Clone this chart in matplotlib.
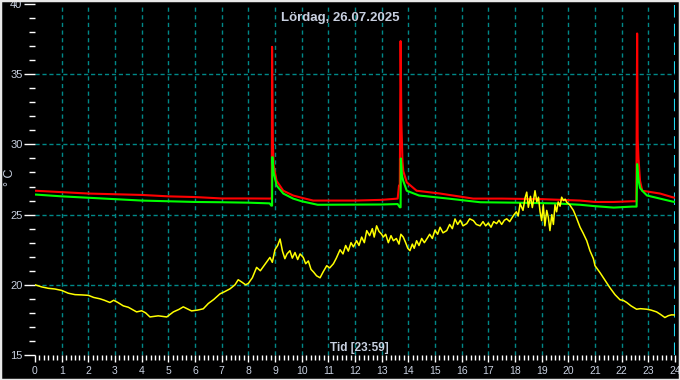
import matplotlib
matplotlib.use("Agg")
import matplotlib.pyplot as plt
from matplotlib.ticker import MultipleLocator
from matplotlib.patches import Rectangle

# red sensor (hours, °C)
red_t = [0, 1, 2, 3, 4, 5, 6, 7, 8, 8.85, 8.88, 8.89, 8.92, 8.95, 9.06, 9.31, 9.68,
         10.0, 10.43, 12.0, 13.0, 13.6, 13.65, 13.68, 13.71, 13.74, 13.78, 13.81,
         13.94, 14.31, 15.19, 16.43, 17.5, 19.0, 20.44, 21.0, 21.7, 22.4, 22.55,
         22.58, 22.6, 22.63, 22.69, 22.77, 23.44, 23.9, 24.0]
red_v = [26.7, 26.6, 26.5, 26.45, 26.4, 26.3, 26.25, 26.15, 26.15, 26.14, 26.14, 36.95,
         30.1, 28.5, 27.4, 26.7, 26.36, 26.2, 26.0, 26.0, 26.05, 26.14, 27.07, 27.07,
         37.36, 31.5, 28.8, 28.1, 27.3, 26.7, 26.5, 26.14, 26.14, 26.1, 26.0, 25.9,
         25.9, 25.95, 25.95, 37.9, 30.4, 29.0, 27.4, 26.7, 26.5, 26.24, 26.2]

# green sensor
green_t = [0, 1, 2, 3, 4, 5, 6, 7, 8, 8.8, 8.86, 8.89, 8.9, 8.95, 9.06, 9.31, 9.68,
           10.0, 10.6, 13.0, 13.6, 13.68, 13.71, 13.72, 13.76, 13.81, 13.94, 14.4,
           15.5, 16.7, 18.0, 19.5, 20.44, 21.0, 21.7, 22.4, 22.56, 22.58, 22.63,
           22.69, 22.77, 22.95, 23.9, 24.0]
green_v = [26.43, 26.3, 26.2, 26.1, 26.0, 25.95, 25.9, 25.88, 25.85, 25.8, 25.64, 25.64,
           29.1, 28.0, 27.07, 26.5, 26.14, 25.95, 25.7, 25.72, 25.75, 25.52, 25.52,
           29.0, 27.8, 27.4, 26.7, 26.36, 26.14, 25.88, 25.85, 25.8, 25.7, 25.6, 25.5,
           25.57, 25.57, 28.6, 27.5, 26.9, 26.7, 26.36, 25.93, 25.9]

# yellow (outdoor)
yel_t = [0, 0.25, 0.5, 0.75, 1.0, 1.25, 1.5, 1.75, 2.0, 2.2, 2.44, 2.6, 2.81, 2.95,
         3.1, 3.31, 3.5, 3.81, 4.0, 4.15, 4.31, 4.62, 4.94, 5.19, 5.4, 5.56, 5.7,
         5.87, 6.1, 6.31, 6.5, 6.7, 6.94, 7.1, 7.31, 7.5, 7.62, 7.75, 7.9, 8.0, 8.15,
         8.31, 8.45, 8.6, 8.81, 8.9, 9.0, 9.1, 9.19, 9.28, 9.37, 9.45, 9.56, 9.65,
         9.75, 9.85, 9.94, 10.06, 10.15, 10.25, 10.35, 10.45, 10.56, 10.69, 10.8,
         10.94, 11.05, 11.19, 11.3, 11.44, 11.55, 11.65, 11.75, 11.85, 11.94, 12.06,
         12.15, 12.25, 12.35, 12.44, 12.55, 12.65, 12.72, 12.81, 12.9, 13.0, 13.06,
         13.15, 13.25, 13.35, 13.44, 13.55, 13.65, 13.72, 13.81, 13.9, 13.98, 14.06,
         14.15, 14.22, 14.31, 14.4, 14.5, 14.6, 14.69, 14.8, 14.9, 15.0, 15.1, 15.19,
         15.3, 15.44, 15.55, 15.65, 15.75, 15.85, 15.95, 16.05, 16.19, 16.3, 16.44,
         16.55, 16.69, 16.8, 16.9, 17.0, 17.1, 17.2, 17.31, 17.4, 17.5, 17.6, 17.69,
         17.8, 17.94, 18.05, 18.12, 18.19, 18.3, 18.38, 18.44, 18.5, 18.58, 18.65,
         18.75, 18.82, 18.88, 18.94, 19.0, 19.06, 19.12, 19.19, 19.25, 19.31, 19.38,
         19.44, 19.5, 19.56, 19.62, 19.69, 19.75, 19.82, 19.88, 19.94, 20.05, 20.19,
         20.3, 20.44, 20.55, 20.69, 20.81, 20.94, 21.0, 21.1, 21.19, 21.35, 21.56,
         21.75, 21.94, 22.05, 22.19, 22.35, 22.56, 22.7, 22.94, 23.1, 23.31, 23.45,
         23.62, 23.75, 23.87, 24.0]
yel_v = [20.0, 19.85, 19.75, 19.7, 19.6, 19.4, 19.3, 19.28, 19.25, 19.1, 19.0, 18.9,
         18.74, 18.9, 18.75, 18.5, 18.4, 18.07, 18.15, 18.0, 17.71, 17.79, 17.71,
         18.07, 18.25, 18.43, 18.3, 18.14, 18.2, 18.29, 18.67, 18.95, 19.36, 19.5,
         19.71, 20.0, 20.36, 20.2, 20.0, 20.1, 20.5, 21.24, 21.0, 21.4, 21.95, 21.6,
         22.5, 22.8, 23.26, 22.4, 21.86, 22.2, 22.43, 21.9, 22.3, 21.8, 22.2, 21.95,
         21.5, 21.7, 21.1, 20.9, 20.64, 20.5, 20.9, 21.36, 21.2, 21.5, 21.9, 22.5,
         22.2, 22.8, 22.4, 23.0, 22.7, 23.14, 22.8, 23.4, 23.0, 23.86, 23.5, 24.0,
         23.4, 24.2, 23.8, 23.6, 23.4, 23.6, 23.0, 23.5, 23.14, 23.3, 22.9, 23.6,
         23.4, 23.0, 22.6, 22.43, 22.9, 22.6, 23.14, 22.8, 23.3, 23.0, 23.26, 23.6,
         23.3, 23.9, 23.6, 24.1, 23.7, 23.86, 24.3, 24.0, 24.69, 24.3, 24.6, 24.2,
         24.36, 24.7, 24.57, 24.3, 24.2, 24.5, 24.2, 24.4, 24.1, 24.5, 24.36, 24.6,
         24.3, 24.6, 24.7, 24.5, 24.93, 25.2, 24.9, 25.78, 25.3, 26.2, 26.6, 25.52,
         26.3, 25.5, 26.7, 25.9, 26.24, 25.2, 24.57, 25.7, 24.2, 25.3, 24.8, 23.86,
         25.0, 24.3, 25.7, 25.2, 25.9, 25.6, 26.24, 26.0, 26.1, 25.88, 25.7, 25.3,
         24.8, 24.1, 23.7, 23.14, 22.43, 21.86, 21.36, 21.1, 20.86, 20.4, 19.79,
         19.3, 18.93, 18.9, 18.74, 18.5, 18.26, 18.3, 18.26, 18.2, 18.07, 17.9,
         17.67, 17.8, 17.86, 17.85]

txt_col = "#c8d0e0"
grid_col = "#008888"

fig = plt.figure(figsize=(6.8, 3.8), dpi=100, facecolor="black")
ax = fig.add_axes([35 / 680, 1 - 355 / 380, 640 / 680, 351 / 380])
ax.set_facecolor("black")

# grid
for h in range(1, 24):
    ax.axvline(h, color=grid_col, lw=1, ls=(0, (3, 2.5)), zorder=1)
for y in [20, 25, 30, 35]:
    ax.axhline(y, color=grid_col, lw=1, ls=(0, (3, 2)), zorder=1)
ax.axvline(24, color="#20d8f0", lw=1.5, ls=(0, (6, 3)), zorder=1)

ax.plot(red_t, red_v, color="#ff0000", lw=1.5, zorder=3)
ax.plot(green_t, green_v, color="#00ff00", lw=1.5, zorder=4)
ax.plot(yel_t, yel_v, color="#ffff00", lw=1.1, zorder=5)

ax.set_xlim(0, 24)
ax.set_ylim(15, 40)
for s in ax.spines.values():
    s.set_visible(False)

ax.xaxis.set_major_locator(MultipleLocator(1))
ax.xaxis.set_minor_locator(MultipleLocator(1 / 6))
ax.yaxis.set_major_locator(MultipleLocator(5))
ax.yaxis.set_minor_locator(MultipleLocator(1))
ax.tick_params(axis="x", which="major", length=5, width=1, color="white",
               labelcolor=txt_col, labelsize=7.5, pad=3)
ax.tick_params(axis="x", which="minor", length=3.5, width=1, color="white")
ax.tick_params(axis="y", which="major", length=8, width=1, color="white",
               labelcolor=txt_col, labelsize=8, pad=1)
ax.tick_params(axis="y", which="minor", length=4, width=1, color="white")
for lab in ax.get_xticklabels() + ax.get_yticklabels():
    lab.set_family("Liberation Sans")

fig.text(0.5, 1 - 18 / 380, "Lördag, 26.07.2025", color=txt_col, fontsize=9.5,
         fontweight="bold", ha="center", va="center", family="Liberation Sans")
fig.text(359 / 680, 1 - 348 / 380, "Tid [23:59]", color=txt_col, fontsize=8.5,
         fontweight="bold", ha="center", va="center", family="Liberation Sans")
fig.text(10 / 680, 1 - 177 / 380, "° C", color=txt_col, fontsize=9,
         rotation=90, ha="center", va="center", family="Liberation Sans")

fig.patches.append(Rectangle((0, 0), 1, 1, transform=fig.transFigure, fill=False,
                             edgecolor="#e8e8e8", lw=2.5))

fig.savefig("out.png", dpi=100, facecolor="black")
